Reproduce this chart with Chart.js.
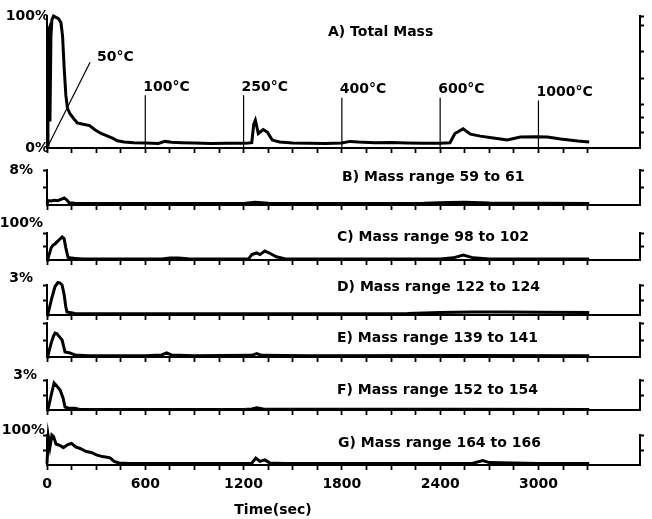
<!DOCTYPE html>
<html>
<head>
<title>Mass profile vs time</title>
<style>
    body { margin: 0; background: #fff; }
    #wrap { position: relative; width: 652px; height: 519px; }
    #wrap canvas { position: absolute; left: 0; top: 0; }
</style>
<script src="https://cdn.jsdelivr.net/npm/chart.js@4.4.0/dist/chart.umd.min.js"></script>
</head>
<body>
<div id="wrap">
    <canvas id="pA" width="652" height="519"></canvas>
    <canvas id="pB" width="652" height="519"></canvas>
    <canvas id="pC" width="652" height="519"></canvas>
    <canvas id="pD" width="652" height="519"></canvas>
    <canvas id="pE" width="652" height="519"></canvas>
    <canvas id="pF" width="652" height="519"></canvas>
    <canvas id="pG" width="652" height="519"></canvas>
</div>
<script>
// time axis (sec)
const xTicks = [0, 150, 300, 450, 600, 750, 900, 1050, 1200, 1350, 1500, 1650, 1800, 1950,
                2100, 2250, 2400, 2550, 2700, 2850, 3000, 3150, 3300];
const xLabelValues = [0, 600, 1200, 1800, 2400, 3000];

// A) total mass, % of full scale
const timeA = [0, 6, 12, 18, 24, 30, 40, 55, 70, 85, 95, 105, 115, 125, 140, 165, 185, 220, 260, 290,
               330, 370, 400, 430, 470, 530, 600, 680, 720, 760, 820, 900, 1000, 1100, 1190, 1230,
               1250, 1262, 1272, 1290, 1320, 1345, 1375, 1420, 1500, 1600, 1700, 1800, 1850, 1900,
               2000, 2100, 2200, 2300, 2400, 2460, 2490, 2540, 2585, 2645, 2725, 2810, 2890, 2980,
               3055, 3135, 3240, 3310];
const massA = [2, 88, 90, 20, 85, 97, 100, 99, 98, 95, 85, 60, 40, 30, 26, 22, 19, 18, 17, 14,
               11, 9, 7.5, 5.5, 4.5, 4, 3.8, 3.5, 5, 4.3, 4, 3.8, 3.5, 3.6, 3.6, 3.8,
               4, 18, 21, 11, 14, 12, 6, 4.5, 3.8, 3.6, 3.5, 3.8, 5, 4.5,
               4, 4.2, 3.8, 3.6, 3.6, 4, 11, 14.5, 10.5, 9, 7.6, 6, 8.3, 8.5,
               8.3, 6.8, 5.3, 4.5];

// furnace temperature marks on panel A
const tempLabels = ['50°C', '100°C', '250°C', '400°C', '600°C', '1000°C'];
const tempTimes = [263, 600, 1200, 1800, 2400, 3000];
const tempTops = [65, 40, 40, 38, 38, 36];

// B) mass 59-61 (full scale 8%)
const timeB = [0, 8, 25, 45, 65, 85, 105, 120, 135, 170, 300, 600, 900, 1200, 1270, 1350, 1800,
               2300, 2450, 2550, 2700, 3000, 3310];
const massB = [0.2, 1.0, 0.9, 1.1, 1.0, 1.3, 1.6, 1.2, 0.5, 0.4, 0.35, 0.35, 0.35, 0.35, 0.6, 0.4, 0.35,
               0.4, 0.55, 0.6, 0.45, 0.4, 0.35];

// C) mass 98-102 (full scale 100%)
const timeC = [0, 6, 25, 37, 50, 61, 75, 92, 104, 115, 128, 150, 171, 220, 400, 600, 700, 750, 800, 860,
               950, 1230, 1250, 1280, 1300, 1330, 1360, 1400, 1450, 1550, 2400, 2480, 2541, 2602, 2700,
               3000, 3310];
const massC = [0, 5, 45, 55, 60, 67, 75, 85, 80, 45, 10, 7, 6, 4, 3.5, 3.5, 4, 7, 7, 5,
               3.5, 3.5, 20, 26, 20, 33, 25, 12, 5, 4, 4, 8, 18, 8, 4,
               3.5, 3.5];

// D) mass 122-124 (full scale 3%)
const timeD = [0, 6, 31, 49, 67, 80, 92, 104, 115, 122, 171, 300, 600, 1200, 1800, 2200, 2400, 2600,
               2800, 3000, 3310];
const massD = [0, 0.1, 1.8, 2.85, 3.25, 3.2, 3.0, 2.1, 0.8, 0.3, 0.15, 0.12, 0.12, 0.12, 0.12, 0.15, 0.25, 0.3,
               0.3, 0.28, 0.25];

// E) mass 139-141 (no scale printed)
const timeE = [0, 6, 25, 40, 49, 61, 75, 92, 110, 140, 170, 250, 600, 700, 730, 760, 900, 1250, 1280,
               1310, 1600, 2600, 3310];
const massE = [0, 5, 40, 62, 70, 68, 60, 50, 15, 12, 6, 4, 4, 6, 12, 6, 4, 5, 10,
               5, 4, 4.5, 4];

// F) mass 152-154 (full scale 3%)
const timeF = [0, 6, 30, 43, 60, 80, 98, 110, 128, 171, 200, 600, 1200, 1250, 1280, 1320, 1500, 2500, 3310];
const massF = [0, 0.05, 1.8, 2.7, 2.4, 2.0, 1.2, 0.3, 0.21, 0.18, 0.06, 0.06, 0.06, 0.1, 0.21, 0.1, 0.08, 0.08, 0.06];

// G) mass 164-166 (full scale 100%)
const timeG = [0, 8, 18, 30, 40, 55, 80, 100, 128, 150, 175, 202, 240, 270, 305, 340, 385, 410, 440, 500,
               800, 1250, 1275, 1300, 1330, 1360, 1450, 2000, 2600, 2660, 2700, 3000, 3310];
const massG = [5, 95, 60, 100, 95, 70, 65, 58, 68, 72, 60, 55, 45, 42, 33, 28, 24, 12, 7, 5,
               5, 6, 23, 12, 17, 7, 5, 5, 6, 15, 8, 5, 5];

const panelTitles = ['A) Total Mass', 'B) Mass range 59 to 61', 'C) Mass range 98 to 102',
                     'D) Mass range 122 to 124', 'E) Mass range 139 to 141',
                     'F) Mass range 152 to 154', 'G) Mass range 164 to 166'];
const fullScale = [100, 8, 100, 3, 100, 3, 100];
const scaleLabels = ['100%', '8%', '100%', '3%', '', '3%', '100%'];

const FONT = { family: '"DejaVu Sans", sans-serif', size: 14, weight: 'bold' };

const pts = (t, v) => t.map((x, i) => ({ x: x, y: v[i] }));

// draws panel titles and other free text
const annotate = {
    id: 'annotate',
    afterDraw(chart, args, opts) {
        const ctx = chart.ctx;
        ctx.save();
        ctx.fillStyle = '#000';
        ctx.font = 'bold 14px "DejaVu Sans", sans-serif';
        ctx.textBaseline = 'middle';
        (opts.texts || []).forEach(t => {
            ctx.textAlign = t.align || 'left';
            const x = t.px != null ? t.px : chart.scales.x.getPixelForValue(t.x) + (t.dx || 0);
            const y = t.py != null ? t.py : chart.scales.y.getPixelForValue(t.y) + (t.dy || 0);
            ctx.fillText(t.text, x, y);
        });
        ctx.restore();
    }
};

function trace(t, v) {
    return { data: pts(t, v), borderColor: '#000', borderWidth: 3, pointRadius: 0,
             tension: 0, fill: false, clip: false };
}

function makePanel(id, p) {
    const fs = p.full;
    const leftTicks = p.midTick ? [fs / 2, fs] : [0, fs];
    return new Chart(document.getElementById(id), {
        type: 'line',
        data: { datasets: p.datasets },
        options: {
            responsive: false,
            animation: false,
            devicePixelRatio: 1,
            layout: { padding: { top: p.top, bottom: 519 - p.bottom - p.axisH, left: 0, right: 0 } },
            plugins: {
                legend: { display: false },
                tooltip: { enabled: false },
                annotate: { texts: p.texts }
            },
            scales: {
                x: {
                    type: 'linear', min: 0, max: 3620,
                    afterBuildTicks: s => { s.ticks = xTicks.map(v => ({ value: v })); },
                    afterFit: s => { s.height = p.axisH; },
                    border: { display: true, color: '#000', width: 2 },
                    grid: { drawOnChartArea: false, tickLength: 5, tickColor: '#000', tickWidth: 1.8 },
                    ticks: {
                        display: !!p.showX, autoSkip: false, maxRotation: 0, padding: 6,
                        color: '#000', font: FONT,
                        callback: v => xLabelValues.includes(v) ? String(v) : ''
                    }
                },
                y: {
                    type: 'linear', position: 'left', min: 0, max: fs,
                    afterBuildTicks: s => { s.ticks = leftTicks.map(v => ({ value: v })); },
                    afterFit: s => { s.width = 47; },
                    border: { display: true, color: '#000', width: 2 },
                    grid: {
                        drawOnChartArea: false, tickLength: 4, tickWidth: 2,
                        tickColor: p.midTick ? '#000' : 'rgba(0,0,0,0)'
                    },
                    ticks: {
                        padding: p.labelPad || 0, labelOffset: p.labelShift || 0, color: '#000', font: FONT,
                        callback: v => v === fs ? p.label : (v === 0 && p.zeroLabel ? p.zeroLabel : '')
                    }
                },
                yr: {
                    type: 'linear', position: 'right', min: 0, max: fs,
                    afterBuildTicks: s => { s.ticks = p.rightTicks.map(v => ({ value: v })); },
                    afterFit: s => { s.width = 12; },
                    border: { display: true, color: '#000', width: 2 },
                    grid: { drawOnChartArea: false, tickLength: 4, tickWidth: 2, tickColor: '#000' },
                    ticks: { padding: 0, callback: () => '' }
                }
            }
        },
        plugins: [annotate]
    });
}

// panel A: trace plus temperature marker lines
const tempSets = tempTimes.map((t, i) => ({
    data: i === 0 ? [{ x: 0, y: 0 }, { x: t, y: tempTops[i] }] : [{ x: t, y: 0 }, { x: t, y: tempTops[i] }],
    borderColor: '#000', borderWidth: 1.2, pointRadius: 0, clip: false
}));
const tempTexts = tempLabels.map((s, i) => ({
    text: s, x: tempTimes[i], y: tempTops[i], dx: i === 0 ? 7 : -2, dy: i === 0 ? -5 : -8
}));

makePanel('pA', {
    full: fullScale[0], label: scaleLabels[0], zeroLabel: '0%', labelPad: -6, top: 16, bottom: 148, axisH: 8,
    midTick: false, rightTicks: [12, 23, 33, 53, 73, 93, 100],
    datasets: [trace(timeA, massA)].concat(tempSets),
    texts: [{ text: panelTitles[0], px: 328, py: 32 }].concat(tempTexts)
});
makePanel('pB', {
    full: fullScale[1], label: scaleLabels[1], labelPad: 10, top: 170, bottom: 205, axisH: 8, midTick: true,
    rightTicks: [fullScale[1] / 2, fullScale[1]],
    datasets: [trace(timeB, massB)],
    texts: [{ text: panelTitles[1], px: 342, py: 177 }]
});
makePanel('pC', {
    full: fullScale[2], label: scaleLabels[2], labelPad: 0, labelShift: -10, top: 233, bottom: 260, axisH: 8, midTick: true,
    rightTicks: [fullScale[2] / 2, fullScale[2]],
    datasets: [trace(timeC, massC)],
    texts: [{ text: panelTitles[2], px: 337, py: 237 }]
});
makePanel('pD', {
    full: fullScale[3], label: scaleLabels[3], labelPad: 10, labelShift: -7, top: 285, bottom: 315, axisH: 8, midTick: true,
    rightTicks: [fullScale[3] / 2, fullScale[3]],
    datasets: [trace(timeD, massD)],
    texts: [{ text: panelTitles[3], px: 337, py: 287 }]
});
makePanel('pE', {
    full: fullScale[4], label: scaleLabels[4], top: 323, bottom: 357, axisH: 8, midTick: true,
    rightTicks: [fullScale[4] / 2, fullScale[4]],
    datasets: [trace(timeE, massE)],
    texts: [{ text: panelTitles[4], px: 337, py: 338 }]
});
makePanel('pF', {
    full: fullScale[5], label: scaleLabels[5], labelPad: 6, labelShift: -5, top: 380, bottom: 410, axisH: 8, midTick: true,
    rightTicks: [fullScale[5] / 2, fullScale[5]],
    datasets: [trace(timeF, massF)],
    texts: [{ text: panelTitles[5], px: 337, py: 390 }]
});
makePanel('pG', {
    full: fullScale[6], label: scaleLabels[6], labelPad: -2, labelShift: -5, top: 435, bottom: 465, axisH: 30, midTick: true,
    showX: true, rightTicks: [fullScale[6] / 2, fullScale[6]],
    datasets: [trace(timeG, massG)],
    texts: [{ text: panelTitles[6], px: 338, py: 443 }, { text: 'Time(sec)', px: 273, py: 510, align: 'center' }]
});
</script>
</body>
</html>
